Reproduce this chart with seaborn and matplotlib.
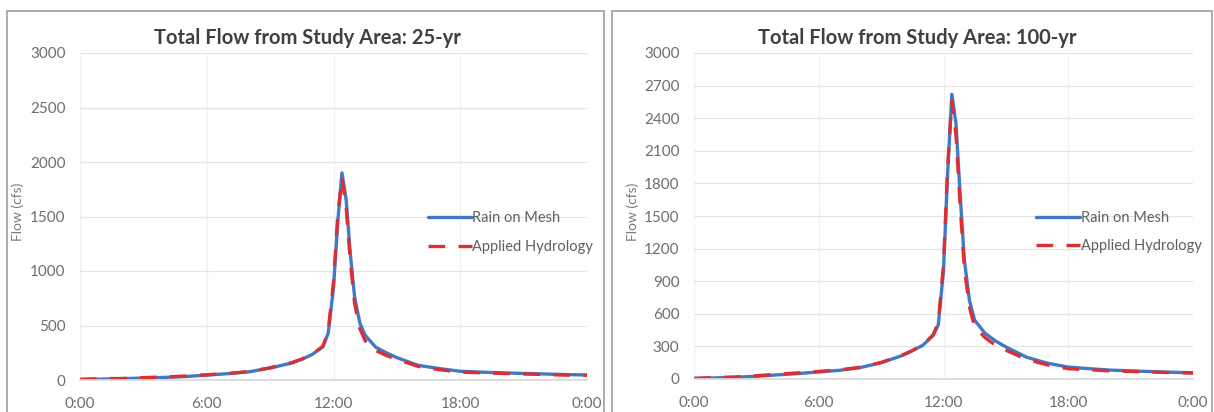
import matplotlib
matplotlib.use("Agg")
import matplotlib.pyplot as plt
from matplotlib.patches import Rectangle
import seaborn as sns
import pandas as pd

# ---------------------------------------------------------------
# Data (hours after start, flow in cfs)

hours = [0, 1, 2, 3, 4, 5, 6, 7, 8, 9, 10, 10.5, 11, 11.5, 11.75, 12.0, 12.2,
         12.4, 12.6, 12.8, 13.0, 13.25, 13.5, 14, 14.5, 15, 16, 17, 18, 19,
         20, 21, 22, 23, 24]

mesh_25 = [5, 8, 12, 18, 24, 32, 45, 58, 75, 110, 155, 190, 235, 305, 430, 850,
           1450, 1900, 1650, 1150, 760, 520, 410, 300, 250, 205, 135, 105, 80,
           72, 66, 60, 55, 50, 46]
hydro_25 = [5, 12, 14, 22, 28, 36, 48, 60, 78, 112, 158, 192, 238, 310, 450, 900,
            1500, 1860, 1580, 1080, 700, 470, 360, 270, 225, 190, 125, 95, 72,
            66, 60, 55, 50, 45, 42]

mesh_100 = [5, 10, 16, 25, 38, 50, 65, 80, 105, 150, 215, 260, 310, 400, 500, 1000,
            1900, 2620, 2350, 1700, 1100, 720, 540, 420, 350, 295, 200, 145, 110,
            95, 82, 75, 68, 62, 58]
hydro_100 = [5, 14, 18, 30, 44, 56, 70, 84, 108, 152, 218, 262, 315, 405, 520, 1050,
             1950, 2560, 2250, 1600, 1020, 660, 480, 380, 310, 265, 180, 130, 95,
             85, 75, 70, 64, 58, 55]

series_names = ['Rain on Mesh', 'Applied Hydrology']
titles = ['Total Flow from Study Area: 25-yr', 'Total Flow from Study Area: 100-yr']
time_ticks = [0, 6, 12, 18, 24]
time_labels = ['0:00', '6:00', '12:00', '18:00', '0:00']
yticks_25 = [0, 500, 1000, 1500, 2000, 2500, 3000]
yticks_100 = [0, 300, 600, 900, 1200, 1500, 1800, 2100, 2400, 2700, 3000]


def make_frame(mesh, hydro):
    # long format table for seaborn
    return pd.DataFrame({
        'hour': hours + hours,
        'flow': mesh + hydro,
        'series': [series_names[0]] * len(hours) + [series_names[1]] * len(hours),
    })


# ---------------------------------------------------------------

sns.set_theme(style="white")
plt.rcParams['font.family'] = ['Lato', 'DejaVu Sans']

W, H = 1214, 412
fig = plt.figure(figsize=(W / 100, H / 100), dpi=100)

# chart area borders (two excel-like chart boxes)
for x0, x1 in [(7, 604), (612, 1212)]:
    fig.add_artist(Rectangle((x0 / W, -0.1), (x1 - x0) / W, (H - 11) / H + 0.1,
                             transform=fig.transFigure, fill=False,
                             edgecolor='#a6a6a6', lw=1.3))

ax1 = fig.add_axes([80 / W, (H - 380) / H, 507 / W, 327 / H])
ax2 = fig.add_axes([694 / W, (H - 379) / H, 499 / W, 326 / H])

palette = {'Rain on Mesh': '#4279c4', 'Applied Hydrology': '#dc2f33'}
dashes = {'Rain on Mesh': '', 'Applied Hydrology': (5, 4)}

panels = [
    (ax1, mesh_25, hydro_25, yticks_25, titles[0]),
    (ax2, mesh_100, hydro_100, yticks_100, titles[1]),
]

for ax, mesh, hydro, yt, title in panels:
    df = make_frame(mesh, hydro)
    sns.lineplot(data=df, x='hour', y='flow', hue='series', style='series',
                 hue_order=series_names, style_order=series_names,
                 palette=palette, dashes=dashes, linewidth=2.4, ax=ax)

    ax.set_xlim(0, 24)
    ax.set_ylim(0, 3000)
    ax.set_xticks(time_ticks)
    ax.set_xticklabels(time_labels)
    ax.set_yticks(yt)
    ax.set_xlabel('')
    ax.set_ylabel('')

    ax.grid(axis='y', color='#e4e4e4', lw=0.9)
    ax.grid(axis='x', color='#f1f1f1', lw=0.9)
    for side in ['top', 'right', 'left']:
        ax.spines[side].set_visible(False)
    ax.spines['bottom'].set_color('#d9d9d9')
    ax.tick_params(length=0, colors='#6e6e6e', labelsize=11)
    ax.tick_params(axis='x', pad=12)
    ax.tick_params(axis='y', pad=10.5)

    ax.text(-0.122, 0.514, 'Flow (cfs)', transform=ax.transAxes, rotation=90,
            ha='center', va='center', fontsize=10, color='#7a7a7a')
    ax.text(0.448, 1.045, title, transform=ax.transAxes, ha='center', va='center',
            fontsize=14.5, fontweight='bold', color='#404040')

    handles, labels = ax.get_legend_handles_labels()
    ax.legend(handles=handles, labels=labels, frameon=False, loc='center left',
              bbox_to_anchor=(0.686, 0.451), handlelength=3.0, handletextpad=0.05,
              labelspacing=1.0, borderpad=0, borderaxespad=0, fontsize=10.5,
              labelcolor='#606060')

fig.savefig('out.png', dpi=100)
